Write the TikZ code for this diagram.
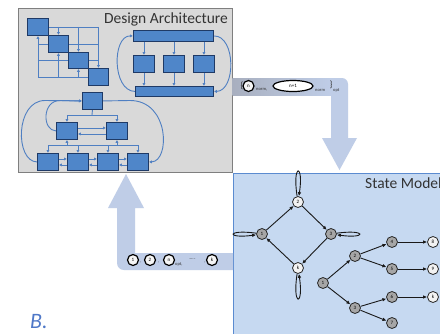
\documentclass[tikz,border=0pt]{standalone}
\usepackage{fontspec}
\setmainfont{Carlito}
\usetikzlibrary{arrows.meta,shapes.geometric,calc}
\pgfdeclarelayer{back}
\pgfdeclarelayer{wires}
\pgfsetlayers{back,wires,main}

\definecolor{dagray}{HTML}{D9D9D9}
\definecolor{daedge}{HTML}{7F7F7F}
\definecolor{blkfill}{HTML}{4F86C9}
\definecolor{blkedge}{HTML}{1F3A66}
\definecolor{wirec}{HTML}{4F7FC2}
\definecolor{smfill}{HTML}{C6D9F1}
\definecolor{smedge}{HTML}{5B8BD0}
\definecolor{flowc}{HTML}{BFCDE7}
\definecolor{flowdark}{HTML}{A8AFBF}
\definecolor{labelB}{HTML}{4F78C8}
\definecolor{stgray}{HTML}{A6A6A6}
\definecolor{stwhite}{HTML}{F2F2F2}

\begin{document}
\begin{tikzpicture}[x=1pt,y=-1pt,
  blk/.style={draw=blkedge,fill=blkfill,line width=0.9pt,inner sep=0,anchor=north west},
  wire/.style={draw=wirec,line width=0.9pt},
  wa/.style={wire,-{Latex[length=3pt,width=3.2pt]}},
  st/.style={circle,draw=black!85,line width=0.8pt,minimum size=11pt,inner sep=0,
             fill=stgray,font=\fontsize{5}{5}\selectfont},
  stw/.style={st,fill=stwhite},
  tr/.style={draw=black!90,line width=0.9pt,-{Latex[length=4pt,width=3.6pt]}},
  ring/.style={circle,draw=black,line width=1.2pt,fill=white!92!gray,minimum size=11pt,
               inner sep=0,font=\fontsize{5}{5}\selectfont},
  tiny/.style={inner sep=0,font=\fontsize{4.5}{4.5}\selectfont,text=black!80},
  title/.style={inner sep=0,font=\fontsize{15.5}{16}\selectfont,text=black!80}]
\useasboundingbox (0,0) rectangle (440,333);

% panels and flow arrows
\begin{pgfonlayer}{back}
  \fill[white] (0,0) rectangle (440,333);
  \node[draw=daedge,fill=dagray,line width=0.8pt,anchor=north west,inner sep=0,
        minimum width=214pt,minimum height=164pt] (da) at (18,8) {};
  \node[draw=smedge,fill=smfill,line width=1pt,anchor=north west,inner sep=0,
        minimum width=220pt,minimum height=170pt] (sm) at (233,173) {};
  % flow: architecture -> state model
  \fill[flowc] (232.5,78) -- (300,78) [rounded corners=6pt] -- (348,78) -- (348,110)
     [sharp corners] -- (348,138) -- (357,138) -- (339.5,170) -- (322,138) -- (331,138)
     -- (331,95) -- (232.5,95) -- cycle;
  \shade[left color=flowdark,right color=flowc] (232.5,78) rectangle (331,95);
  % flow: state model -> architecture
  \fill[flowc] (233,253) -- (135,253) -- (135,208) -- (144,208) -- (126,174)
     -- (108,208) -- (117,208) -- (117,230) [rounded corners=7pt] -- (117,270)
     -- (180,270) [sharp corners] -- (233,270) -- cycle;
\end{pgfonlayer}

\node[title,anchor=base east] (datitle) at (228,23) {Design Architecture};
\node[title,anchor=base west] (smtitle) at (365,188) {State Model};

% --- matrix-like block arrangement
\node[blk,minimum width=21pt,minimum height=17pt] (d1) at (27,18) {};
\node[blk,minimum width=20pt,minimum height=17pt] (d2) at (48,35) {};
\node[blk,minimum width=20pt,minimum height=16pt] (d3) at (68,52) {};
\node[blk,minimum width=20pt,minimum height=17pt] (d4) at (88,68) {};
\begin{pgfonlayer}{wires}
  \draw[wire] (d1.east) -- (d1.center -| d4.center);
  \draw[wire] (d2.center -| d1.center) -- (d2.west) (d2.east) -- (d2.center -| d4.center);
  \draw[wire] (d3.center -| d1.center) -- (d3.west) (d3.east) -- (d3.center -| d4.center);
  \draw[wire] (d4.center -| d1.center) -- (d4.west);
  \draw[wa] (d1.center |- d4.center) -- (d1.south);
  \draw[wa] (d2.center |- d1.center) -- (d2.north);
  \draw[wa] (d2.center |- d4.center) -- (d2.south);
  \draw[wa] (d3.center |- d1.center) -- (d3.north);
  \draw[wa] (d3.center |- d4.center) -- (d3.south);
  \draw[wa] (d4.center |- d1.center) -- (d4.north);
\end{pgfonlayer}

% --- bus arrangement
\node[blk,minimum width=80pt,minimum height=11pt] (tb) at (133,30) {};
\node[blk,minimum width=21pt,minimum height=17pt] (b1) at (133,55) {};
\node[blk,minimum width=21pt,minimum height=17pt] (b2) at (163,55) {};
\node[blk,minimum width=21pt,minimum height=17pt] (b3) at (193,55) {};
\node[blk,minimum width=78pt,minimum height=10pt] (bb) at (135,86) {};
\begin{pgfonlayer}{wires}
  \foreach \b in {b1,b2,b3}{
    \draw[wa] (\b.north |- tb.south) -- (\b.north);
    \draw[wa] (\b.south) -- (\b.south |- bb.north);
  }
  \draw[wa] (bb.west) .. controls (112,91) and (112,35.5) .. (tb.west);
  \draw[wa] (tb.east) .. controls (236,35.5) and (236,91) .. (bb.east);
\end{pgfonlayer}

% --- hierarchical arrangement
\node[blk,minimum width=20pt,minimum height=17pt] (c0) at (82,92) {};
\node[blk,minimum width=21pt,minimum height=17pt] (m1) at (56,122) {};
\node[blk,minimum width=21pt,minimum height=17pt] (m2) at (106,122) {};
\node[blk,minimum width=21pt,minimum height=17pt] (e1) at (37,153) {};
\node[blk,minimum width=21pt,minimum height=17pt] (e2) at (67,153) {};
\node[blk,minimum width=21pt,minimum height=17pt] (e3) at (97,153) {};
\node[blk,minimum width=21pt,minimum height=17pt] (e4) at (127,153) {};
\coordinate (busA) at (92,115);
\coordinate (busB) at (92,145);
\begin{pgfonlayer}{wires}
  \draw[wire] (c0.south) -- (busA);
  \draw[wire] (busA -| m1.north) -- (busA -| m2.north);
  \draw[wa] (busA -| m1.north) -- (m1.north);
  \draw[wa] (busA -| m2.north) -- (m2.north);
  \draw[wa] ([yshift=3pt]m1.east) -- ([yshift=3pt]m2.west);
  \draw[wa] ([yshift=-3pt]m2.west) -- ([yshift=-3pt]m1.east);
  \draw[wire] (busB -| e1.north) -- (busB -| e4.north);
  \draw[wa] (busB -| m1.south) -- (m1.south);
  \draw[wa] (busB -| m2.south) -- (m2.south);
  \foreach \e in {e1,e2,e3,e4}{ \draw[wa] (busB -| \e.north) -- (\e.north); }
  \foreach \a/\b in {e1/e2,e2/e3,e3/e4}{
    \draw[wa] ([yshift=3pt]\a.east) -- ([yshift=3pt]\b.west);
    \draw[wa] ([yshift=-3pt]\b.west) -- ([yshift=-3pt]\a.east);
  }
  \draw[wa] (e1.west) .. controls (15,161.5) and (15,100.5) .. (45,100.5) -- (c0.west);
  \draw[wa] (m1.west) .. controls (42,130.5) and (42,100.5) .. (60,100.5) -- (c0.west);
  \draw[wa] (c0.east) -- (130,100.5) .. controls (170,100.5) and (170,161.5) .. (e4.east);
\end{pgfonlayer}

% --- state model: cycle
\node[stw] (s2) at (298,202) {2};
\node[st]  (s1) at (262,234) {1};
\node[st]  (s3) at (331,234) {3};
\node[stw] (sk) at (298,268) {k};
\draw[tr] (s1) -- (s2);
\draw[tr] (s2) -- (s3);
\draw[tr] (s3) -- (sk);
\draw[tr] (sk) -- (s1);
\draw[tr] (s2) .. controls (292,163) and (304,163) .. (s2);
\draw[tr] (s1) .. controls (226,229) and (226,239) .. (s1);
\draw[tr] (s3) .. controls (367,229) and (367,239) .. (s3);
\draw[tr] (sk) .. controls (292,307) and (304,307) .. (sk);

% --- state model: tree
\node[st]  (t1) at (323,283) {1};
\node[st]  (t2) at (355,256) {2};
\node[st]  (t3) at (355,308) {3};
\node[st]  (t4) at (392,242) {4};
\node[st]  (t5) at (392,269) {5};
\node[st]  (t6) at (392,297) {6};
\node[st]  (t7) at (392,323) {7};
\node[stw] (t8) at (433,242) {8};
\node[stw] (t9) at (433,269) {9};
\node[stw] (tk) at (433,297) {k};
\foreach \a/\b in {t1/t2,t1/t3,t2/t4,t2/t5,t3/t6,t3/t7,t4/t8,t5/t9,t6/tk}
  \draw[tr] (\a) -- (\b);

% --- labels on the flow arrows
\node[inner sep=0,font=\fontsize{9}{9}\selectfont,text=black!80] (ob) at (242,86) {\{};
\node[ring] (rn) at (248.5,86) {n};
\node[tiny,anchor=west] (nm1) at (256,90) {norm,};
\node[ellipse,draw=black,line width=1.2pt,fill=white,minimum width=40pt,minimum height=11pt,
      inner sep=0,font=\fontsize{5}{5}\selectfont] (rn1) at (293,86) {n+1};
\node[tiny,anchor=west] (nm2) at (315,90) {norm};
\node[inner sep=0,font=\fontsize{9}{9}\selectfont,text=black!80] (cb) at (331,85) {\}};
\node[tiny,anchor=west] (op1) at (333,90) {opt};

\node[ring] (q1) at (133,260) {1};
\node[tiny] (cm1) at (141,263) {,};
\node[ring] (q2) at (150,260) {2};
\node[tiny] (cm2) at (158.5,263) {,};
\node[ring] (qn) at (169,260) {n};
\node[tiny,anchor=west] (op2) at (175,264) {opt,};
\node[tiny,anchor=west] (dots) at (189,260) {-----};
\node[tiny] (cm3) at (205,263) {,};
\node[ring] (qk) at (212,260) {k};

\node[inner sep=0,anchor=base west,font=\fontsize{22}{22}\selectfont\itshape,text=labelB] (lb) at (30,328) {B.};
\end{tikzpicture}
\end{document}
